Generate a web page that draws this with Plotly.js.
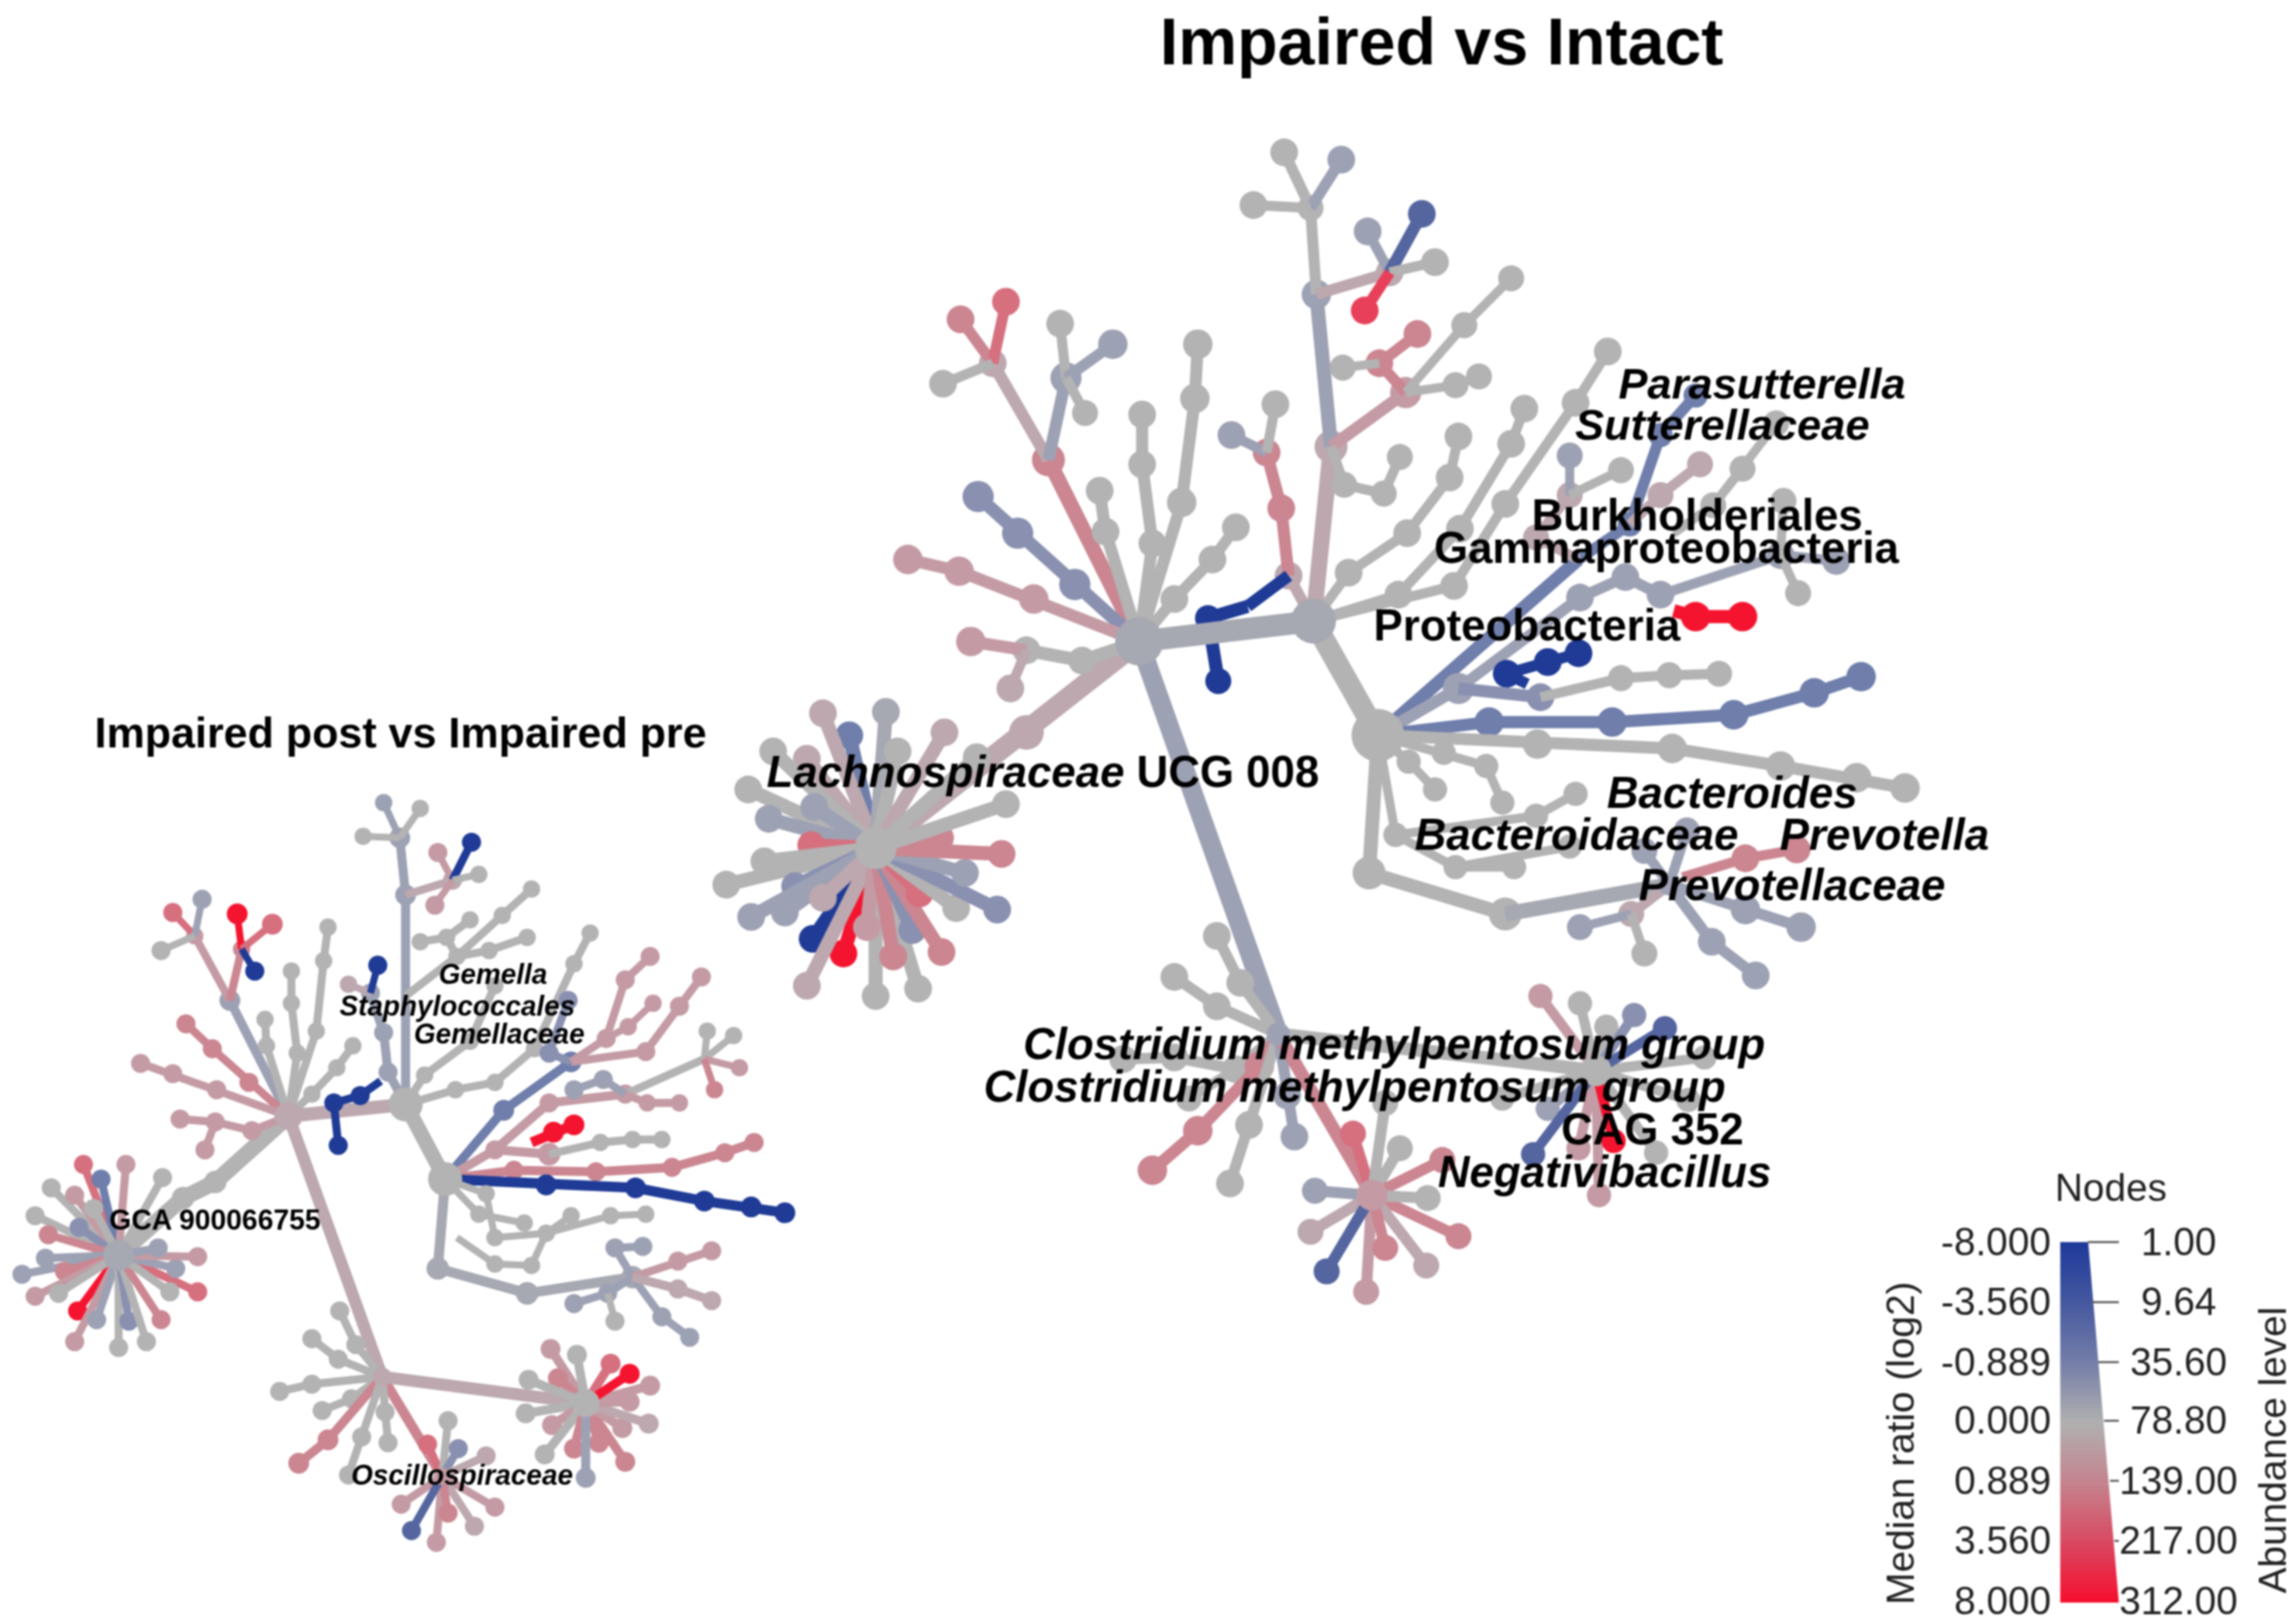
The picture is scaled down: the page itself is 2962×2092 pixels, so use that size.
<!DOCTYPE html>
<html><head><meta charset="utf-8">
<script src="https://cdn.plot.ly/plotly-3.0.1.min.js"></script>
<style>html,body{margin:0;padding:0;background:#fff}#chart{filter:blur(0.9px)}</style></head>
<body><div id="chart" style="width:2962px;height:2092px"></div>
<script>
const palette = {G:'#b3b3b3',S0:'#a6a8b2',S1:'#9da1b4',S2:'#8a90b0',B1:'#6f7eab',B2:'#54659f',N:'#1f3b96',
  P1:'#bca8ae',P2:'#c49ba4',P3:'#cb8691',P4:'#d6707f',R1:'#e8405a',R:'#f5142f'};

// [colour, line width, node size, x0,y0, x1,y1, ...] : first point is the parent node
const rightUpperPaths = [
 ['P1',26,40, 778,438, 701,500, 598,579],
 ['P3',15,38, 778,438, 716,314],
 ['P1',12,32, 716,314, 678,248],
 ['P3',11,32, 678,248, 656,218],
 ['P4',11,32, 678,248, 687,206],
 ['G',10,32, 678,248, 644,262],
 ['S1',12,36, 716,314, 728,258],
 ['G',10,32, 728,258, 724,221],
 ['S1',11,34, 728,258, 760,235],
 ['G',10,30, 728,258, 741,282],
 ['S2',13,36, 778,438, 734,399, 695,364, 668,339],
 ['P2',12,34, 778,438, 706,409, 655,390, 620,382],
 ['G',13,32, 778,438, 739,451, 701,444],
 ['P2',12,34, 701,444, 663,438],
 ['P1',10,32, 701,444, 690,470],
 ['G',12,32, 778,438, 755,363, 751,335],
 ['G',12,32, 778,438, 787,371, 780,317, 780,283],
 ['G',12,34, 778,438, 807,343, 816,272, 818,235],
 ['G',11,32, 778,438, 802,409, 828,382, 844,360],
 ['P1',11,32, 897,424, 880,393],
 ['P3',12,32, 880,393, 875,347, 865,309],
 ['S1',10,32, 865,309, 841,297],
 ['G',10,32, 865,309, 871,276],
 ['N',12,0, 880,393, 852,414],
 ['N',13,30, 852,414, 825,422, 832,465],
 ['S0',28,0, 778,438, 897,424],
 ['G',28,0, 897,424, 941,502],
 ['P1',16,38, 897,424, 909,305],
 ['S1',14,34, 909,305, 899,201],
 ['G',11,30, 899,201, 895,142],
 ['G',11,32, 895,142, 877,104],
 ['S1',11,32, 895,142, 916,109],
 ['G',10,32, 895,142, 856,140],
 ['P1',11,32, 899,201, 949,186],
 ['S1',10,32, 949,186, 934,158],
 ['B2',12,32, 949,186, 971,146],
 ['G',10,32, 949,186, 980,179],
 ['R1',11,32, 949,186, 932,212],
 ['P2',12,36, 909,305, 960,268],
 ['P3',11,32, 960,268, 942,248, 968,228],
 ['G',9,30, 942,248, 917,251],
 ['G',9,30, 960,268, 994,263, 1010,257],
 ['G',9,30, 960,268, 1000,222, 1032,190],
 ['G',10,30, 909,305, 918,331, 945,337, 956,312]
];
const rightProteoPaths = [
 ['G',10,32, 897,424, 921,391, 961,364, 990,326, 996,298],
 ['G',10,32, 897,424, 955,406, 997,361, 1032,303, 1041,279],
 ['G',10,32, 897,424, 993,400, 1028,344, 1076,275, 1098,240],
 ['B1',13,0, 941,502, 1078,382],
 ['B1',11,28, 1078,382, 1113,358, 1134,297, 1158,270],
 ['P1',10,30, 1078,382, 1049,367, 1072,338],
 ['S1',9,30, 1072,338, 1072,311],
 ['G',9,30, 1072,338, 1107,321],
 ['P1',10,30, 1113,358, 1134,338, 1161,317],
 ['G',9,30, 1143,364, 1170,345, 1190,320],
 ['G',9,30, 1170,345, 1213,289],
 ['S1',12,36, 941,502, 996,470],
 ['S1',11,32, 996,470, 1079,408, 1110,394, 1134,406],
 ['S1',10,32, 1134,406, 1216,379, 1254,383],
 ['G',9,30, 1216,379, 1228,405],
 ['G',9,30, 1216,379, 1218,342],
 ['R',13,34, 1143,417, 1158,421, 1190,421],
 ['N',11,32, 1043,467, 1029,460, 1057,452, 1078,446],
 ['S2',12,32, 996,470, 1052,476],
 ['G',10,30, 1052,476, 1107,463, 1140,461, 1174,460],
 ['B1',12,34, 941,502, 1017,493, 1101,493, 1184,488, 1239,473, 1271,462],
 ['G',12,34, 941,502, 1050,508, 1142,511, 1216,523, 1268,531, 1301,538],
 ['G',9,28, 941,502, 962,520, 980,539],
 ['G',9,28, 941,502, 986,514, 1015,523, 1026,548],
 ['G',9,28, 941,502, 953,570, 994,592, 1034,592],
 ['G',9,28, 953,570, 1049,557, 1076,542],
 ['G',9,28, 994,592, 1072,578],
 ['G',18,38, 941,502, 935,596, 1028,624],
 ['S0',15,0, 1028,624, 1140,604],
 ['P1',10,30, 1140,604, 1114,624],
 ['S1',9,30, 1114,624, 1079,633],
 ['G',9,30, 1114,624, 1123,651],
 ['P3',10,32, 1149,599, 1192,586, 1227,580],
 ['S1',11,34, 1140,604, 1192,621, 1230,633],
 ['S1',11,32, 1140,604, 1169,643, 1199,666],
 ['S1',10,30, 1140,604, 1123,581],
 ['S1',10,30, 1140,604, 1152,567]
];
const rightLowerPaths = [
 ['S1',25,0, 778,438, 873,706],
 ['G',11,32, 873,706, 847,671, 831,639],
 ['G',11,32, 873,706, 831,687, 802,667],
 ['G',11,32, 873,706, 844,730, 802,722, 767,723],
 ['P3',12,34, 873,706, 860,728, 818,772, 787,799],
 ['G',11,32, 873,706, 853,768, 840,808],
 ['S1',11,32, 873,706, 879,748, 884,776],
 ['G',10,30, 844,730, 812,750],
 ['P3',17,0, 873,706, 937,816],
 ['G',17,0, 873,706, 1090,731]
];
// [x, y, colour] : leaves around one hub
const lachHub = [598,579];
const lachLeaves = [[555,641,'N'],[576,651,'R'],[580,502,'B1'],[562,487,'P1'],[605,486,'S0'],[613,513,'G'],[645,500,'P1'],[551,518,'P1'],[528,513,'G'],[511,539,'G'],
 [556,551,'S1'],[525,559,'S1'],[554,577,'P4'],[522,588,'G'],[496,604,'G'],[543,605,'S2'],[536,623,'S1'],[513,626,'S1'],
 [562,613,'P1'],[598,680,'G'],[627,675,'G'],[551,673,'P1'],[592,633,'P2'],[610,653,'P3'],[623,635,'S2'],[643,650,'P3'],
 [628,610,'P4'],[653,620,'G'],[681,621,'S2'],[659,596,'S1'],[684,583,'P3'],[642,572,'P3'],[687,549,'G'],[667,517,'G']];
const gHub = [937,816];
const gLeaves = [[924,774,'P4'],[946,753,'G'],[956,784,'G'],[985,792,'P3'],[996,844,'P3'],[975,818,'G'],[974,864,'P1'],
 [933,882,'P2'],[946,852,'P3'],[895,841,'P1'],[898,813,'S1'],[906,868,'B2']];
const hHub = [1090,731];
const hLeaves = [[1052,680,'P2'],[1079,685,'G'],[1097,701,'G'],[1116,693,'S2'],[1164,722,'G'],[1057,757,'S1'],
 [1078,784,'P2'],[1092,816,'P2'],[1131,787,'G'],[1153,751,'G'],[1026,750,'G'],[1137,702,'B2'],[1047,788,'B2'],[1102,779,'R']];

const leftPaths = [
 ['G',16,26, 197,762, 147,807, 125,818, 81,857],
 ['P1',17,0, 197,762, 277,754],
 ['G',15,0, 277,754, 304,805],
 ['P1',12,0, 197,762, 261,940],
 ['P3',10,0, 261,940, 302,1008],
 ['P1',12,0, 261,940, 400,958],
 ['S1',9,24, 197,762, 157,683],
 ['P2',8,20, 157,683, 133,639],
 ['P4',7,22, 133,639, 118,623],
 ['S1',7,22, 133,639, 138,614],
 ['G',7,22, 133,639, 110,649],
 ['P3',8,20, 157,683, 165,648],
 ['R',7,24, 165,648, 162,624],
 ['P4',7,24, 165,648, 186,631],
 ['N',7,22, 165,648, 174,663],
 ['P3',8,22, 197,762, 170,739, 145,716, 127,699],
 ['P2',8,22, 197,762, 148,744, 118,733, 96,726],
 ['P2',8,22, 197,762, 172,772, 147,766, 123,764],
 ['P2',8,22, 147,766, 140,785],
 ['G',8,20, 197,762, 182,714, 181,696],
 ['G',8,20, 197,762, 203,719, 199,685, 199,663],
 ['G',8,20, 197,762, 216,704, 221,656, 224,633],
 ['G',8,20, 197,762, 213,747, 230,729, 241,714],
 ['N',8,22, 260,738, 246,748, 228,753, 231,782],
 ['S1',9,22, 277,754, 265,732, 262,705, 253,678],
 ['P1',7,20, 253,678, 238,672],
 ['N',7,22, 253,678, 258,659],
 ['S1',9,24, 277,754, 277,611, 273,572],
 ['S1',7,20, 273,572, 262,548],
 ['G',7,20, 273,572, 287,552],
 ['G',7,20, 273,572, 248,571],
 ['P1',8,22, 277,611, 309,601],
 ['P2',7,22, 309,601, 299,582],
 ['N',8,22, 309,601, 322,575],
 ['G',7,20, 309,601, 327,597],
 ['P2',7,22, 309,601, 297,618],
 ['G',8,20, 277,680, 312,653, 343,625, 363,607],
 ['G',8,20, 312,653, 305,640, 321,628],
 ['G',8,20, 305,640, 287,643],
 ['G',8,20, 312,653, 334,649, 360,640],
 ['G',8,20, 277,754, 290,734, 321,711, 338,673],
 ['G',8,20, 277,754, 311,744, 338,739, 365,716, 392,658, 403,637],
 ['B1',9,24, 304,805, 344,758, 390,725],
 ['S2',8,22, 390,725, 375,719, 388,683],
 ['P2',8,22, 390,725, 414,709, 427,669, 444,653],
 ['P2',7,20, 414,709, 429,701, 446,685],
 ['P2',8,22, 390,725, 441,718, 464,687, 479,667],
 ['P2',9,22, 304,805, 338,785, 375,753, 427,747],
 ['G',8,0, 427,747, 481,723],
 ['G',7,20, 481,723, 483,704],
 ['G',7,20, 481,723, 501,707],
 ['P2',7,20, 481,723, 505,729],
 ['P3',7,20, 481,723, 488,744],
 ['S1',8,22, 427,747, 412,737, 392,744],
 ['P2',8,20, 427,747, 442,753, 464,753],
 ['P2',9,26, 338,785, 375,788],
 ['G',8,20, 375,788, 410,780, 432,778, 452,778],
 ['R',10,24, 363,780, 378,773, 392,768],
 ['P3',9,22, 304,805, 351,799, 407,800, 459,797, 495,787, 515,780],
 ['N',10,24, 304,805, 373,809, 434,811, 481,820, 513,824, 536,828],
 ['G',7,20, 304,805, 327,829, 358,835],
 ['G',7,20, 304,805, 332,815, 338,845, 373,842, 390,830],
 ['G',7,20, 373,842, 417,830, 441,829],
 ['G',7,20, 312,845, 338,863, 363,864, 373,842],
 ['S0',10,26, 304,805, 299,866, 360,883, 432,872],
 ['S1',8,22, 432,872, 420,852],
 ['S1',8,22, 420,852, 439,851],
 ['P2',8,22, 432,872, 463,861, 486,854],
 ['S1',8,22, 432,872, 415,883, 392,890],
 ['G',7,22, 415,883, 420,902],
 ['S1',8,22, 432,872, 452,899, 471,913],
 ['P1',9,22, 432,872, 463,880, 486,888]
];
const l4Hub = [81,857];
const l4Leaves = [[53,895,'R'],[57,795,'P4'],[69,805,'B1'],[86,795,'P2'],[111,804,'G'],[35,811,'G'],[51,816,'P2'],[24,830,'G'],[54,838,'S2'],[33,843,'P3'],
 [15,870,'S1'],[31,859,'S1'],[44,868,'P3'],[24,885,'P2'],[40,883,'G'],[51,916,'P2'],[66,901,'S1'],[81,920,'G'],[88,902,'S2'],[100,916,'G'],
 [110,901,'P3'],[135,882,'P4'],[116,882,'G'],[120,866,'S1'],[135,858,'P2'],[108,852,'S1'],[64,825,'G']];
const l5Paths = [
 ['G',8,22, 261,940, 243,918, 232,895],
 ['G',8,22, 261,940, 231,928, 213,914],
 ['G',8,22, 261,940, 213,945, 191,950],
 ['G',8,22, 261,940, 240,955, 220,963],
 ['P3',9,24, 261,940, 224,983, 204,999],
 ['G',8,22, 261,940, 247,981, 238,1007],
 ['G',8,22, 261,940, 263,964, 265,985]
];
const l6Hub = [302,1008];
const l6Leaves = [[292,986,'P4'],[306,970,'G'],[313,989,'S2'],[332,994,'P1'],[338,1029,'P2'],[324,1042,'P1'],[298,1053,'P2'],[306,1033,'P3'],[274,1027,'P2'],[281,1045,'B2']];
const l7Hub = [400,958];
const l7Leaves = [[376,921,'P2'],[394,925,'G'],[417,931,'P4'],[444,946,'P2'],[381,941,'P3'],[361,942,'G'],[359,965,'G'],[377,973,'P2'],[372,993,'G'],
 [392,989,'P3'],[427,998,'P3'],[409,985,'P3'],[425,975,'P2'],[443,972,'P1'],[430,957,'P2'],[400,1009,'S1'],[430,938,'R']];
// [x, y, colour, size]
const hubs = [[778,438,'S0',62],[897,424,'S0',58],[941,502,'G',68],[1140,604,'S1',28],[873,706,'S1',30],[598,579,'G',54],[937,816,'P2',40],[1090,731,'G',40],
 [197,762,'P1',36],[277,754,'G',44],[304,805,'G',44],[81,857,'S0',40],[261,940,'P1',24],[302,1008,'P2',22],[400,958,'G',36]];

// tree labels
const labelText = ['<b><i>Parasutterella</i></b>','<b><i>Sutterellaceae</i></b>','<b>Burkholderiales</b>','<b>Gammaproteobacteria</b>','<b>Proteobacteria</b>',
 '<b><i>Lachnospiraceae</i> UCG 008</b>','<b><i>Bacteroides</i></b>','<b><i>Bacteroidaceae</i></b>','<b><i>Prevotella</i></b>','<b><i>Prevotellaceae</i></b>',
 '<b><i>Clostridium methylpentosum group</i></b>','<b><i>Clostridium methylpentosum group</i></b>','<b>CAG 352</b>','<b><i>Negativibacillus</i></b>',
 '<b>GCA 900066755</b>','<b><i>Gemella</i></b>','<b><i>Staphylococcales</i></b>','<b><i>Gemellaceae</i></b>','<b><i>Oscillospiraceae</i></b>',
 '<b>Impaired post vs Impaired pre</b>'];
const labelX = [1203,1176,1159,1138,1043,712.5,1183,1077,1287,1224,952,925,1128.5,1096,147,336.5,312.5,341,315.5,273.5];
const labelY = [262,290,352,374,427,527,541,570,570,604,713,742,771,800,833,665,687,706,1007,500];
const labelSize = [56,56,56.5,56.5,56.5,56.5,56.5,56.5,56.5,56.5,56.5,56.5,56.5,56.5,36.5,36,36,36,36,55.5];

// legend
const ratioTicks = ['-8.000','-3.560','-0.889','0.000','0.889','3.560','8.000'];
const abundanceTicks = ['1.00','9.64','35.60','78.80','139.00','217.00','312.00'];
const legendY = [848,889,930,970,1011,1052,1093];
const legendEdge = [1426,1429,1433,1437,1441,1444,1447];
const legendColors = [[0,'#1f3a9a'],[0.1667,'#45599f'],[0.3333,'#747ea8'],[0.5,'#b0b0b0'],[0.6667,'#c4848f'],[0.8333,'#d84a62'],[1,'#f5102f']];

const lineScale = 1.3, nodeScale = 1.12;
const traces = [];
function addPath(p){
  const pts = p.slice(3), x=[], y=[], s=[];
  for(let i=0;i<pts.length;i+=2){x.push(pts[i]);y.push(pts[i+1]);s.push(i===0?0:p[2]*nodeScale);}
  traces.push({type:'scatter',mode:p[2]?'lines+markers':'lines',x,y,
    line:{color:palette[p[0]],width:p[1]<=16?p[1]*lineScale:p[1]},marker:{color:palette[p[0]],opacity:1,size:s,line:{width:0}},hoverinfo:'skip',showlegend:false});
}
function addLeaves(hub,leaves,w,s){
  leaves.forEach(l=>addPath([l[2],w,s,hub[0],hub[1],l[0],l[1]]));
}
// legend gradient
const N=80, zRows=[], yEdges=[];
for(let i=0;i<=N;i++){yEdges.push(848+(1094-848)*i/N); if(i<N) zRows.push([i/(N-1)]);}
traces.push({type:'heatmap',x:[1407,1447],y:yEdges,z:zRows,colorscale:legendColors,zmin:0,zmax:1,showscale:false,hoverinfo:'skip'});
traces.push({type:'scatter',mode:'lines',x:[1426,1447,1452,1452,1426],y:[847,1094,1094,847,847],fill:'toself',fillcolor:'#fff',line:{width:0,color:'#fff'},hoverinfo:'skip',showlegend:false});
legendY.forEach((yv,i)=>traces.push({type:'scatter',mode:'lines',x:[legendEdge[i],1447],y:[yv,yv],line:{color:'#555',width:2.5},hoverinfo:'skip',showlegend:false}));

rightUpperPaths.forEach(addPath);
rightProteoPaths.forEach(addPath);
addLeaves(lachHub,lachLeaves,14,32);
rightLowerPaths.forEach(addPath);
addLeaves(gHub,gLeaves,11,30);
addLeaves(hHub,hLeaves,10,28);
leftPaths.forEach(addPath);
addLeaves(l4Hub,l4Leaves,8,22);
l5Paths.forEach(addPath);
addLeaves(l6Hub,l6Leaves,8,22);
addLeaves(l7Hub,l7Leaves,9,23);
hubs.forEach(h=>traces.push({type:'scatter',mode:'markers',x:[h[0]],y:[h[1]],marker:{color:palette[h[2]],opacity:1,size:h[3],line:{width:0}},hoverinfo:'skip',showlegend:false}));

const font='"Liberation Sans", Arial, sans-serif';
const annotations = labelText.map((t,i)=>({text:t,x:labelX[i],y:labelY[i],xref:'x',yref:'y',showarrow:false,xanchor:'center',yanchor:'middle',font:{family:font,size:labelSize[i],color:'#000'}}));
ratioTicks.forEach((t,i)=>annotations.push({text:t,x:1402,y:legendY[i],xref:'x',yref:'y',showarrow:false,xanchor:'right',yanchor:'middle',font:{family:font,size:50,color:'#222'}}));
abundanceTicks.forEach((t,i)=>annotations.push({text:t,x:1488,y:legendY[i],xref:'x',yref:'y',showarrow:false,xanchor:'center',yanchor:'middle',font:{family:font,size:50,color:'#222'}}));
annotations.push({text:'Nodes',x:1442,y:811,xref:'x',yref:'y',showarrow:false,xanchor:'center',yanchor:'middle',font:{family:font,size:50,color:'#222'}});
annotations.push({text:'Median ratio (log2)',x:1298,y:985,xref:'x',yref:'y',showarrow:false,textangle:-90,xanchor:'center',yanchor:'middle',font:{family:font,size:50,color:'#222'}});
annotations.push({text:'Abundance level',x:1552,y:990,xref:'x',yref:'y',showarrow:false,textangle:-90,xanchor:'center',yanchor:'middle',font:{family:font,size:50,color:'#222'}});

const hidden={visible:false,fixedrange:true};
Plotly.newPlot('chart',traces,{
  width:2962,height:2092,margin:{l:0,r:0,t:0,b:0},paper_bgcolor:'#fff',plot_bgcolor:'#fff',
  title:{text:'<b>Impaired vs Intact</b>',x:984.5/1568,y:1-28/1107.4,xanchor:'center',yanchor:'middle',font:{family:font,size:85.5,color:'#000'}},
  xaxis:Object.assign({range:[0,1568]},hidden),
  yaxis:Object.assign({range:[1107.4,0]},hidden),
  showlegend:false,hovermode:false,annotations
},{displayModeBar:false,staticPlot:true});
</script></body></html>
